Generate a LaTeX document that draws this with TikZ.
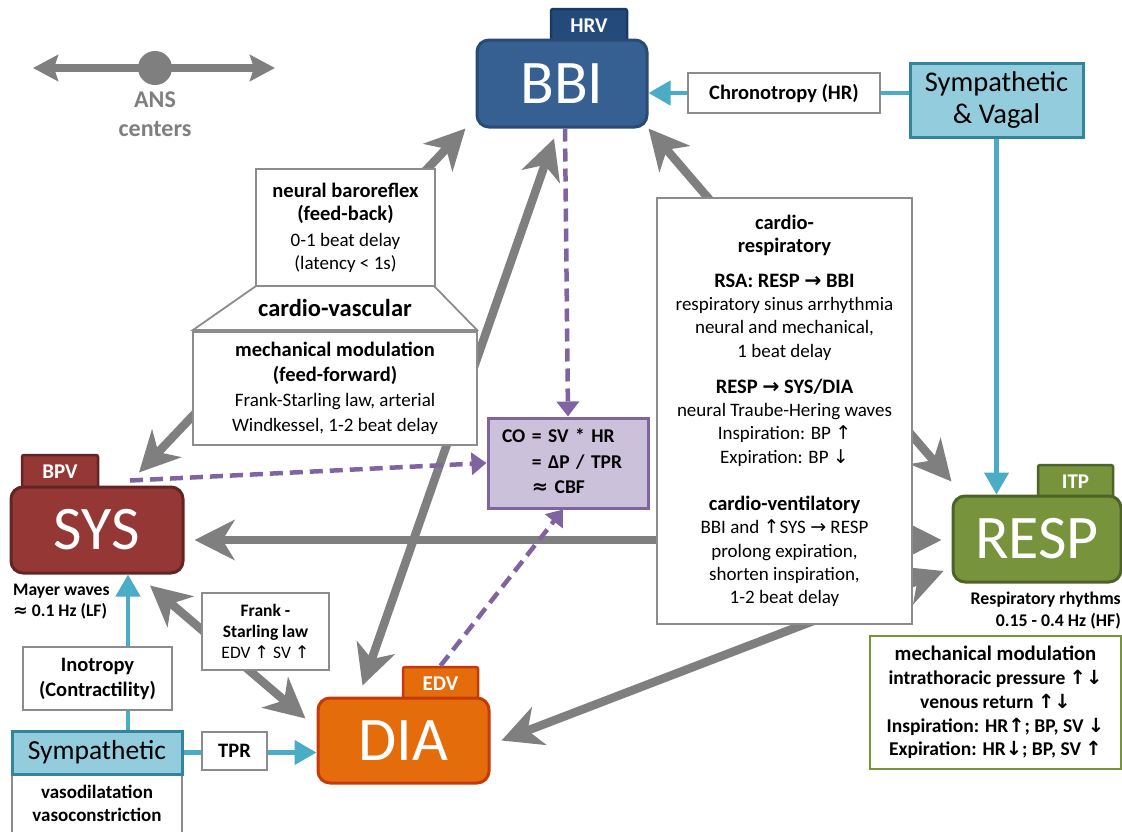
\documentclass[tikz,border=0pt]{standalone}
\usepackage{fontspec}
\setmainfont{Carlito}
\newfontfamily\dvs{DejaVu Sans}
\usetikzlibrary{arrows.meta,calc}
\newcommand{\myup}{{\dvs ↑}}
\newcommand{\mydn}{{\dvs ↓}}
\newcommand{\myra}{{\dvs →}}
\newcommand{\myap}{{\dvs ≈}}
\newcommand{\mhd}[1]{{\fontsize{20.5}{23}\selectfont\bfseries #1}}
\definecolor{arrgray}{HTML}{7F7F7F}
\definecolor{graybd}{HTML}{8C8C8C}
\definecolor{bbif}{HTML}{376092}
\definecolor{bbid}{HTML}{284A75}
\definecolor{hrvf}{HTML}{244A7C}
\definecolor{hrvd}{HTML}{1A3A63}
\definecolor{sysf}{HTML}{953735}
\definecolor{sysd}{HTML}{632523}
\definecolor{diaf}{HTML}{E46C0A}
\definecolor{diad}{HTML}{C63A08}
\definecolor{respf}{HTML}{77933C}
\definecolor{respd}{HTML}{4F6228}
\definecolor{lbf}{HTML}{93CDDD}
\definecolor{lbd}{HTML}{31859C}
\definecolor{bluec}{HTML}{4BACC6}
\definecolor{purp}{HTML}{8064A2}
\definecolor{cof}{HTML}{CCC1DA}
\tikzset{
 gbox/.style={draw=graybd, line width=1.8pt, fill=white, align=center, inner sep=0pt},
 big/.style={rounded corners=12pt, line width=3pt, text=white, font=\fontsize{62}{64}\selectfont, inner sep=0pt},
 tabbox/.style={rounded corners=2pt, line width=2.5pt, text=white, font=\fontsize{21}{22}\selectfont\bfseries, inner sep=0pt},
 lbbox/.style={fill=lbf, draw=lbd, line width=3pt, align=center, inner sep=0pt},
 garrow/.style={draw=arrgray, line width=8.5pt, {Stealth[length=40pt,width=40pt,inset=12pt]}-{Stealth[length=40pt,width=40pt,inset=12pt]}},
 barrow/.style={draw=bluec, line width=4.5pt, -{Triangle[length=22pt,width=24pt]}},
 parrow/.style={draw=purp, line width=4.5pt, dash pattern=on 13pt off 7pt, -{Triangle[length=15pt,width=22pt]}},
}
\begin{document}
\begin{tikzpicture}[x=1pt,y=-1pt]
\fill[white] (0,0) rectangle (1122,831);
\useasboundingbox (0,0) rectangle (1122,831);

% ---- main nodes ----
\node[tabbox, fill=hrvf, draw=hrvd, minimum width=76, minimum height=34] (hrv) at (589,26) {HRV};
\node[big, fill=bbif, draw=bbid, minimum width=170, minimum height=87] (bbi) at (562,83.5) {BBI};
\node[tabbox, fill=sysf, draw=sysd, minimum width=76, minimum height=34] (bpv) at (60,472) {BPV};
\node[big, fill=sysf, draw=sysd, minimum width=172, minimum height=86] (sys) at (97,530) {SYS};
\node[tabbox, fill=diaf, draw=diad, minimum width=75, minimum height=34] (edv) at (440.5,684) {EDV};
\node[big, fill=diaf, draw=diad, minimum width=171, minimum height=85] (dia) at (403.5,740.5) {DIA};
\node[tabbox, fill=respf, draw=respd, minimum width=75, minimum height=34] (itp) at (1075.5,482) {ITP};
\node[big, fill=respf, draw=respd, minimum width=168, minimum height=86] (resp) at (1037,539) {RESP};

% ---- gray connectors ----
\draw[garrow] ($(sys.north)+(42,-13)$) -- ($(bbi.south west)+(-10,0)$);
\draw[garrow] ($(dia.north)+(-41,-11)$) -- ($(bbi.south)+(-8,10)$);
\draw[garrow] (bbi.south east) -- ($(resp.north west)+(0,-13)$);
\draw[garrow] ($(sys.east)+(10,10)$) -- ($(resp.west)+(-10,1)$);
\draw[garrow] ($(dia.east)+(11,0)$) -- ($(resp.west)+(-8,32)$);
\draw[garrow] ($(sys.south)+(53,11)$) -- ($(dia.west)+(-11,-22)$);

% ---- CO node ----
\node[fill=cof, draw=purp, line width=3pt, minimum height=90, text width=132pt, inner xsep=14pt, inner ysep=0pt, align=left, font=\fontsize{19.5}{25.5}\selectfont\bfseries] (co) at (568,463)
 {\begin{tabular}{@{}r@{ }l@{}}CO & = SV * HR\\ & = ΔP / TPR\\ & \myap{} CBF\end{tabular}};

% ---- purple dashed ----
\draw[parrow] ($(bbi.south)+(3,0)$) -- (co.north);
\draw[parrow] ($(sys.north)+(33,-5)$) -- (co.west);
\draw[parrow] (edv.north) -- ($(co.south)+(-5,0)$);

% ---- blue lines ----
\node[lbbox, minimum width=173, minimum height=74, font=\fontsize{28.5}{32}\selectfont] (sv) at (996.5,100) {Sympathetic\\\& Vagal};
\draw[barrow] ($(sv.west)+(0,-7)$) -- ($(bbi.east)+(0,9.5)$);
\draw[barrow] (sv.south) -- (sv.south |- resp.north);
\node[gbox, minimum width=170, minimum height=80, anchor=north] (vbox) at (97,774) {};
\node[font=\fontsize{19}{23}\selectfont\bfseries, align=center] (vaso) at (97,803.5) {vasodilatation\\vasoconstriction};
\node[lbbox, minimum width=170, minimum height=43, font=\fontsize{27.5}{30}\selectfont] (symp) at (97,752.5) {Sympathetic};
\draw[barrow] ($(symp.north)+(31,0)$) -- ($(sys.south)+(31,0)$);
\draw[barrow] (symp.east) -- (symp.east -| dia.west);

% ---- boxes on the lines ----
\node[gbox, minimum width=192, minimum height=40, font=\fontsize{20.5}{22}\selectfont\bfseries] (chrono) at (784,93) {Chronotropy (HR)};
\node[gbox, minimum width=149, minimum height=63, font=\fontsize{20.5}{25}\selectfont\bfseries] (ino) at (97.5,678.5) {Inotropy\\(Contractility)};
\node[gbox, minimum width=65, minimum height=38, font=\fontsize{20.5}{22}\selectfont\bfseries] (tpr) at (234.5,751) {TPR};
\node[gbox, minimum width=127, minimum height=77, font=\fontsize{17.5}{21}\selectfont] (fs) at (265.5,631.5) {\textbf{Frank -}\\\textbf{Starling law}\\EDV \myup{} SV \myup};

% cardio-vascular group
\draw[draw=graybd, line width=1.8pt, fill=white] (256,286) -- (434,286) -- (477,330) -- (193,330) -- cycle;
\node[font=\fontsize{24.5}{26}\selectfont\bfseries] (cv) at (335,308) {cardio-vascular};
\node[gbox, minimum width=179, minimum height=117, font=\fontsize{19}{23}\selectfont] (neural) at (345.5,227.5)
 {\mhd{neural baroreflex}\\ \mhd{(feed-back)}\\[3pt] 0-1 beat delay\\ (latency < 1s)};
\node[gbox, minimum width=284, minimum height=113, font=\fontsize{19}{25}\selectfont] (mech) at (335,388.5)
 {\mhd{mechanical modulation}\\ \mhd{(feed-forward)}\\ Frank-Starling law, arterial\\ Windkessel, 1-2 beat delay};

% cardio-respiratory
\node[gbox, minimum width=255, minimum height=426, font=\fontsize{19}{23.3}\selectfont] (cr) at (784.5,411)
 {\mhd{cardio-}\\ \mhd{respiratory}\\[11pt]
  \mhd{RSA: RESP \myra{} BBI}\\ respiratory sinus arrhythmia\\ neural and mechanical,\\ 1 beat delay\\[13pt]
  \mhd{RESP \myra{} SYS/DIA}\\ neural Traube-Hering waves\\ Inspiration: BP \myup\\ Expiration: BP \mydn\\[24pt]
  \mhd{cardio-ventilatory}\\ BBI and \myup SYS \myra{} RESP\\ prolong expiration,\\ shorten inspiration,\\ 1-2 beat delay};

% green mechanical modulation box
\node[draw=respf, line width=2.5pt, fill=white, minimum width=251, minimum height=133, inner sep=0pt, align=center, font=\fontsize{19.5}{23.75}\selectfont\bfseries] (mm) at (995.5,702.5)
 {{\fontsize{20.7}{23.75}\selectfont mechanical modulation}\\ intrathoracic pressure \myup\mydn\\ venous return \myup\mydn\\ Inspiration: HR\myup; BP, SV \mydn\\ Expiration: HR\mydn; BP, SV \myup};

% labels
\node[anchor=east, align=right, inner sep=0pt, font=\fontsize{17.8}{22}\selectfont\bfseries] (rr) at (1121,611) {Respiratory rhythms\\0.15 - 0.4 Hz (HF)};
\node[anchor=west, align=left, inner sep=0pt, font=\fontsize{17.6}{21}\selectfont\bfseries] (mw) at (13,601.5) {Mayer waves\\\myap{} 0.1 Hz (LF)};

% ANS legend
\node[circle, fill=arrgray, minimum size=34, inner sep=0pt] (ans) at (155,68) {};
\coordinate (ansL) at (33,68);
\coordinate (ansR) at (275,68);
\draw[draw=arrgray, line width=8pt, {Stealth[length=25pt,width=26pt,inset=4pt]}-{Stealth[length=25pt,width=26pt,inset=4pt]}] (ansL) -- (ansR);
\node[align=center, text=arrgray, font=\fontsize{24}{29}\selectfont\bfseries] (anst) at (155,114.5) {ANS\\centers};
\end{tikzpicture}
\end{document}
